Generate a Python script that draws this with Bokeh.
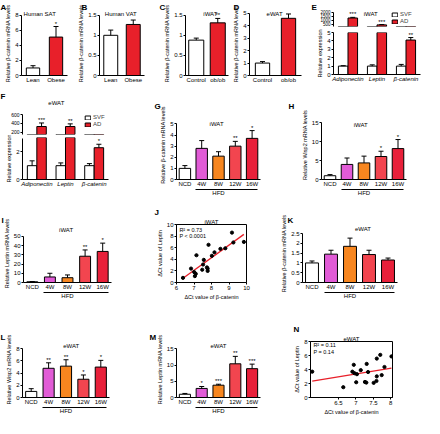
import numpy as np
from bokeh.plotting import figure
from bokeh.layouts import column, row
from bokeh.models import (ColumnDataSource, FactorRange, Range1d, Label, CategoricalAxis,
                          FixedTicker, Legend, LegendItem, Title)
from bokeh.transform import dodge
from bokeh.core.properties import value
from bokeh.embed import file_html
from bokeh.resources import INLINE

# ---------------- data ----------------
A_cats = ["Lean", "Obese"]; A_vals = [1.0, 5.1]; A_errs = [0.3, 1.4]; A_sig = ["", "*"]
A_ticks = [0, 2, 4, 6, 8]
B_cats = ["Lean", "Obese"]; B_vals = [1.0, 1.27]; B_errs = [0.13, 0.11]; B_sig = ["", ""]
B_ticks = [0.0, 0.5, 1.0, 1.5]
C_cats = ["Control", "ob/ob"]; C_vals = [0.88, 1.31]; C_errs = [0.05, 0.11]; C_sig = ["", "**"]
C_ticks = [0.0, 0.5, 1.0, 1.5]
D_cats = ["Control", "ob/ob"]; D_vals = [1.0, 4.6]; D_errs = [0.12, 0.35]; D_sig = ["", "***"]
D_ticks = [0, 1, 2, 3, 4, 5]

E_cats = ["Adiponectin", "Leptin", "β-catenin"]
E_svf = [1.0, 1.0, 1.0]; E_svf_err = [0.05, 0.15, 0.2]
E_ad = [1300, 450, 4.1]; E_ad_err = [80, 40, 0.3]; E_sig = ["***", "***", "**"]
E_up_ticks = [500, 1000, 1500, 2000]; E_lo_ticks = [0, 1, 2, 3, 4, 5]

F_cats = ["Adiponectin", "Leptin", "β-catenin"]
F_svf = [1.0, 1.0, 1.0]; F_svf_err = [0.35, 0.2, 0.15]
F_ad = [330, 330, 2.3]; F_ad_err = [80, 60, 0.25]; F_sig = ["***", "**", "*"]
F_up_ticks = [200, 400, 600]; F_lo_ticks = [0, 2]

HFD_cats = ["NCD", "4W", "8W", "12W", "16W"]
G_vals = [1.0, 2.8, 2.1, 3.0, 3.7]; G_errs = [0.25, 0.7, 0.4, 0.43, 0.7]; G_sig = ["", "", "", "**", "*"]
G_ticks = [0, 1, 2, 3, 4, 5]
H_vals = [1.0, 4.0, 4.4, 6.1, 8.2]; H_errs = [0.3, 1.7, 1.8, 1.4, 2.4]; H_sig = ["", "", "", "*", "*"]
H_ticks = [0, 5, 10, 15]
I_vals = [0.8, 6.0, 5.2, 28.5, 33.7]; I_errs = [0.3, 4.0, 3.0, 6.8, 9.0]; I_sig = ["", "", "", "**", "*"]
I_ticks = [0, 10, 20, 30, 40, 50]
K_vals = [1.0, 1.45, 1.85, 1.43, 1.15]; K_errs = [0.1, 0.2, 0.42, 0.22, 0.1]; K_sig = ["", "", "", "", ""]
K_ticks = [0.0, 0.5, 1.0, 1.5, 2.0, 2.5]
L_vals = [1.0, 4.8, 5.15, 3.0, 5.0]; L_errs = [0.45, 0.9, 1.05, 0.7, 1.1]; L_sig = ["", "**", "**", "*", "*"]
L_ticks = [0, 2, 4, 6, 8]
M_vals = [1.0, 2.8, 3.8, 10.4, 8.9]; M_errs = [0.25, 0.6, 0.3, 2.3, 1.4]; M_sig = ["", "*", "***", "**", "***"]
M_ticks = [0, 5, 10, 15]

J_x = [6.37, 6.83, 7.01, 7.05, 7.10, 7.14, 7.47, 7.52, 7.56, 7.74, 7.78, 7.78, 7.83, 8.02,
       8.17, 8.51, 8.79, 9.17, 9.25, 9.85]
J_y = [0.8, 2.4, 1.8, 1.1, 1.5, 4.7, 2.2, 3.1, 3.9, 2.6, 2.4, 2.0, 6.5, 4.6,
       5.2, 5.8, 5.9, 8.6, 6.9, 7.0]
J_xticks = [6, 7, 8, 9, 10]; J_yticks = [0, 2, 4, 6, 8, 10]
N_x = [5.75, 6.64, 6.94, 6.90, 6.96, 7.03, 7.01, 7.14, 7.26, 7.30, 7.31, 7.35, 7.51, 7.59,
       7.60, 7.60, 7.70, 7.74, 7.82, 8.02]
N_y = [3.69, 1.47, 4.67, 3.69, 3.47, 3.33, 2.18, 3.91, 2.22, 2.13, 4.80, 3.64, 2.09, 2.36,
       5.56, 3.02, 6.09, 3.20, 4.36, 5.87]
N_xticks = [6.5, 7.0, 7.5, 8.0]; N_yticks = [0, 2, 4, 6, 8]

# ---------------- style ----------------
S = 0.96
FONT = "Liberation Sans"
RED = "#e8202a"
HFD_COLORS = ["#ffffff", "#e15bd6", "#f7861f", "#f2454f", "#e8203a"]
PAIR_COLORS = ["#ffffff", RED]
MAPS = {}


def X(v):
    return int(round(v * S))


def lin(p0, p1, v0, v1):
    return lambda a: v0 + (a - p0) * (v1 - v0) / (p1 - p0)


def make_fig(slot, fr, x_range, y_range, fx, fy, x_axis_location="below"):
    x0, y0, x1, y1 = slot
    l, t, r, b = fr
    p = figure(width=X(x1) - X(x0), height=X(y1) - X(y0), x_range=x_range, y_range=y_range,
               title=None, toolbar_location=None, output_backend="svg",
               x_axis_location=x_axis_location,
               min_border_left=X(l) - X(x0), min_border_right=X(x1) - X(r),
               min_border_top=X(t) - X(y0), min_border_bottom=X(y1) - X(b))
    p.outline_line_color = None
    p.grid.visible = False
    MAPS[p.id] = (fx, fy, fr)
    return p


def style_axis(ax, label=None, ticks=True, size="6px"):
    ax.axis_line_color = "black"
    ax.axis_line_width = 1
    ax.major_tick_line_color = "black" if ticks else None
    ax.major_tick_out = 2 if ticks else 0
    ax.major_tick_in = 0
    ax.minor_tick_line_color = None
    ax.major_label_text_font = FONT
    ax.major_label_text_font_size = size
    ax.major_label_text_color = "black"
    ax.major_label_standoff = 1
    if label:
        ax.axis_label = label
    ax.axis_label_text_font = FONT
    ax.axis_label_text_font_size = "5.5px"
    ax.axis_label_text_font_style = "normal"
    ax.axis_label_text_color = "black"
    ax.axis_label_standoff = 1


def lab(p, ax, ay, text, size="6px", align="center"):
    fx, fy, fr = MAPS[p.id]
    p.add_layout(Label(x=fx(ax), y=fy(ay), text=text, text_font=FONT, text_font_size=size,
                       text_align=align, text_baseline="middle", text_color="black"))


def subtitle(p, text):
    p.add_layout(Title(text=text, align="center", standoff=0, text_font=FONT,
                       text_font_size="6px", text_font_style="normal", text_color="black"),
                 "above")


def letter(p, ax, text):
    l = MAPS[p.id][2][0]
    p.add_layout(Title(text=text, align="left", offset=X(ax) - X(l), standoff=0,
                       text_font=FONT, text_font_size="8px", text_font_style="bold",
                       text_color="black"), "above")


def stars(p, xs, ys, texts, lo, hi):
    keep = [i for i, (y, s) in enumerate(zip(ys, texts)) if s and lo <= y <= hi]
    if not keep:
        return
    src = ColumnDataSource(dict(x=[xs[i] for i in keep], y=[ys[i] for i in keep],
                                s=[texts[i] for i in keep]))
    return src


def bar_panel(slot, fr, ymap, cats, vals, errs, sigs, colors, yticks, ylabel, width, hfd=False):
    l, t, r, b = fr
    fy = lin(ymap[1], ymap[3], ymap[0], ymap[2])
    fx = lin(l, r, 0, len(cats))
    p = make_fig(slot, fr, FactorRange(factors=cats), Range1d(fy(b), fy(t)), fx, fy)
    his = [v + e for v, e in zip(vals, errs)]
    src = ColumnDataSource(dict(cat=cats, val=vals, hi=his, color=colors))
    p.vbar(x="cat", top="val", bottom=0, width=width, fill_color="color",
           line_color="black", line_width=1, source=src)
    p.segment(x0="cat", y0="val", x1="cat", y1="hi", line_color="black", line_width=1, source=src)
    p.scatter(x="cat", y="hi", marker="dash", size=5, line_color="black", line_width=1, source=src)
    ssrc = stars(p, cats, his, sigs, fy(b), fy(t))
    if ssrc is not None:
        p.text(x="x", y="y", text="s", text_align="center", text_baseline="bottom",
               text_font=value(FONT), text_font_size=value("6px"), text_color="black", source=ssrc)
    style_axis(p.xaxis[0], ticks=False)
    p.xaxis[0].axis_label_standoff = 0
    style_axis(p.yaxis[0], ylabel)
    p.yaxis[0].ticker = FixedTicker(ticks=yticks)
    p.yaxis[0].bounds = (yticks[0], yticks[-1])
    if hfd:
        n = len(cats)
        ax2 = CategoricalAxis(ticker=FixedTicker(ticks=[]), bounds=(1.15, n - 0.15))
        style_axis(ax2, "HFD", ticks=False)
        ax2.major_label_text_font_size = "0px"
        ax2.major_label_standoff = 0
        ax2.axis_label_text_font_size = "6px"
        ax2.axis_label_standoff = 0
        p.add_layout(ax2, "below")
    return p


def grouped_seg(slot, fr, ymap, cats, svf, svf_err, ad, ad_err, sigs, yticks, bounds, ylabel,
                show_x, tick_size="6px"):
    l, t, r, b = fr
    fy = lin(ymap[1], ymap[3], ymap[0], ymap[2])
    fx = lin(l, r, 0, len(cats))
    p = make_fig(slot, fr, FactorRange(factors=cats), Range1d(fy(b), fy(t)), fx, fy,
                 x_axis_location="below" if show_x else None)
    ad_hi = [v + e for v, e in zip(ad, ad_err)]
    src = ColumnDataSource(dict(cat=cats, svf=svf, svf_hi=[v + e for v, e in zip(svf, svf_err)],
                                ad=ad, ad_hi=ad_hi))
    xs = dodge("cat", -0.165, range=p.x_range)
    xa = dodge("cat", 0.165, range=p.x_range)
    r1 = p.vbar(x=xs, top="svf", bottom=0, width=0.33, fill_color=PAIR_COLORS[0],
                line_color="black", line_width=1, source=src)
    r2 = p.vbar(x=xa, top="ad", bottom=0, width=0.33, fill_color=PAIR_COLORS[1],
                line_color="black", line_width=1, source=src)
    for xx, v, hi in ((xs, "svf", "svf_hi"), (xa, "ad", "ad_hi")):
        p.segment(x0=xx, y0=v, x1=xx, y1=hi, line_color="black", line_width=1, source=src)
        p.scatter(x=xx, y=hi, marker="dash", size=5, line_color="black", line_width=1, source=src)
    ssrc = stars(p, cats, ad_hi, sigs, fy(b), fy(t))
    if ssrc is not None:
        p.text(x=dodge("x", 0.165, range=p.x_range), y="y", text="s", text_align="center",
               text_baseline="bottom", text_font=value(FONT), text_font_size=value("6px"),
               text_color="black", source=ssrc)
    if show_x:
        style_axis(p.xaxis[0], ticks=False)
        p.xaxis[0].major_label_text_font_style = "italic"
    style_axis(p.yaxis[0], ylabel, size=tick_size)
    p.yaxis[0].ticker = FixedTicker(ticks=yticks)
    p.yaxis[0].bounds = bounds
    return p, r1, r2


def add_legend(p, r1, r2, location):
    leg = Legend(items=[LegendItem(label="SVF", renderers=[r1]),
                        LegendItem(label="AD", renderers=[r2])],
                 location=location, margin=0, padding=0, spacing=1,
                 glyph_width=7, glyph_height=5, label_height=5, label_standoff=2,
                 label_text_font=FONT, label_text_font_size="6px",
                 background_fill_alpha=0, border_line_alpha=0)
    p.add_layout(leg)


def scatter_panel(slot, fr, xs, ys, xr, yr, xticks, yticks, xlabel, ylabel):
    l, t, r, b = fr
    p = make_fig(slot, fr, Range1d(*xr), Range1d(*yr), lin(l, r, *xr), lin(b, t, *yr))
    p.outline_line_color = "black"
    p.outline_line_width = 1
    k, c = np.polyfit(xs, ys, 1)
    lx = np.array([min(xs), max(xs)])
    p.line(lx, k * lx + c, line_color=RED, line_width=1.3)
    p.scatter(xs, ys, size=3.2, color="black")
    style_axis(p.xaxis[0], xlabel)
    style_axis(p.yaxis[0], ylabel)
    p.xaxis[0].ticker = FixedTicker(ticks=xticks)
    p.yaxis[0].ticker = FixedTicker(ticks=yticks)
    return p


BCAT = "Relative β-catenin mRNA levels"

# ---------------- row 1 ----------------
pA = bar_panel((0, 0, 78, 93), (22, 9, 70, 78), (0, 78, 8, 13), A_cats, A_vals, A_errs, A_sig,
               PAIR_COLORS, A_ticks, BCAT, 0.58)
letter(pA, 0, "A"); lab(pA, 41, 12, "Human SAT")
pB = bar_panel((78, 0, 160, 93), (97, 9, 150, 78), (0, 78, 1.5, 13), B_cats, B_vals, B_errs, B_sig,
               PAIR_COLORS, B_ticks, BCAT, 0.62)
letter(pB, 78, "B"); lab(pB, 122, 12, "Human VAT")
pC = bar_panel((160, 0, 240, 93), (193, 9, 238, 78), (0, 78, 1.5, 13), C_cats, C_vals, C_errs,
               C_sig, PAIR_COLORS, C_ticks, BCAT, 0.7)
letter(pC, 166, "C"); lab(pC, 219, 12, "iWAT")
pD = bar_panel((240, 0, 320, 93), (258, 9, 314, 78), (0, 78, 5, 11), D_cats, D_vals, D_errs, D_sig,
               PAIR_COLORS, D_ticks, BCAT, 0.55)
letter(pD, 242, "D"); lab(pD, 285, 12, "eWAT")

pEu, rE1, rE2 = grouped_seg((320, 0, 440, 30), (347, 9, 438, 27), (250, 27, 2000, 10), E_cats,
                            E_svf, E_svf_err, E_ad, E_ad_err, E_sig, E_up_ticks, (250, 2000),
                            None, False, tick_size="4.5px")
letter(pEu, 324, "E"); lab(pEu, 386, 12, "iWAT")
add_legend(pEu, rE1, rE2, "top_right")
pEl, _, _ = grouped_seg((320, 30, 440, 93), (347, 33, 438, 77), (0, 77, 5, 33), E_cats,
                        E_svf, E_svf_err, E_ad, E_ad_err, E_sig, E_lo_ticks, (0, 5),
                        "Relative expression", True)

# ---------------- row 2 ----------------
pFu, rF1, rF2 = grouped_seg((0, 93, 150, 141), (23, 104, 112, 140), (150, 140, 640, 117), F_cats,
                            F_svf, F_svf_err, F_ad, F_ad_err, F_sig, F_up_ticks, (150, 600),
                            None, False, tick_size="5px")
letter(pFu, 0, "F"); lab(pFu, 58, 107, "eWAT")
add_legend(pFu, rF1, rF2, (X(87) - X(23), X(140) - X(132)))
pFl, _, _ = grouped_seg((0, 141, 150, 209), (23, 143, 112, 186), (0, 186, 2, 157.7), F_cats,
                        F_svf, F_svf_err, F_ad, F_ad_err, F_sig, F_lo_ticks, (0, 3),
                        "Relative expression", True)

pG = bar_panel((150, 93, 290, 209), (183, 114, 271, 186), (0, 186, 5, 128), HFD_cats, G_vals,
               G_errs, G_sig, HFD_COLORS, G_ticks, BCAT, 0.68, hfd=True)
letter(pG, 160, "G"); lab(pG, 225, 128, "iWAT")
pH = bar_panel((290, 93, 440, 209), (334, 115, 423, 187), (0, 187, 15, 128), HFD_cats, H_vals,
               H_errs, H_sig, HFD_COLORS, H_ticks, "Relative Wisp2 mRNA levels", 0.68, hfd=True)
letter(pH, 300, "H"); lab(pH, 375, 130, "iWAT")

# ---------------- row 3 ----------------
pI = bar_panel((0, 209, 150, 319), (23, 218, 116, 296), (0, 296, 50, 234), HFD_cats, I_vals,
               I_errs, I_sig, HFD_COLORS, I_ticks, "Relative Leptin mRNA levels", 0.62, hfd=True)
letter(pI, 0, "I"); lab(pI, 68, 225, "iWAT")

pJ = scatter_panel((150, 209, 290, 319), (183, 233, 256, 294), J_x, J_y, (6, 10), (0, 10),
                   J_xticks, J_yticks, "ΔCt value of β-catenin", "ΔCt value of Leptin")
subtitle(pJ, "iWAT"); letter(pJ, 160, "J")
lab(pJ, 186, 239, "R² = 0.73", size="5.5px", align="left")
lab(pJ, 186, 245, "P < 0.0001", size="5.5px", align="left")

pK = bar_panel((290, 209, 440, 319), (315, 226, 414, 296), (0, 296, 2.5, 237), HFD_cats, K_vals,
               K_errs, K_sig, HFD_COLORS, K_ticks, BCAT, 0.68, hfd=True)
letter(pK, 299, "K"); lab(pK, 378, 232, "eWAT")

# ---------------- row 4 ----------------
pL = bar_panel((0, 319, 150, 434), (23, 347, 114, 416), (0, 416, 8, 356), HFD_cats, L_vals,
               L_errs, L_sig, HFD_COLORS, L_ticks, "Relative Wisp2 mRNA levels", 0.64, hfd=True)
letter(pL, 0, "L"); lab(pL, 74, 353, "eWAT")
pM = bar_panel((150, 319, 290, 434), (183, 347, 271, 415), (0, 415, 15, 356), HFD_cats, M_vals,
               M_errs, M_sig, HFD_COLORS, M_ticks, "Relative Leptin mRNA levels", 0.66, hfd=True)
letter(pM, 155, "M"); lab(pM, 227, 353, "eWAT")

pN = scatter_panel((290, 319, 440, 434), (323, 355, 408, 414), N_x, N_y, (5.7, 8.05), (0, 8),
                   N_xticks, N_yticks, "ΔCt value of β-catenin", "ΔCt value of Leptin")
subtitle(pN, "eWAT"); letter(pN, 305, "N")
lab(pN, 326, 359, "R² = 0.11", size="5.5px", align="left")
lab(pN, 326, 366, "P = 0.14", size="5.5px", align="left")

layout = column(
    row(pA, pB, pC, pD, column(pEu, pEl, spacing=0), spacing=0),
    row(column(pFu, pFl, spacing=0), pG, pH, spacing=0),
    row(pI, pJ, pK, spacing=0),
    row(pL, pM, pN, spacing=0),
    spacing=0,
)

open("out.html", "w").write(file_html(layout, INLINE, title="Figure"))
